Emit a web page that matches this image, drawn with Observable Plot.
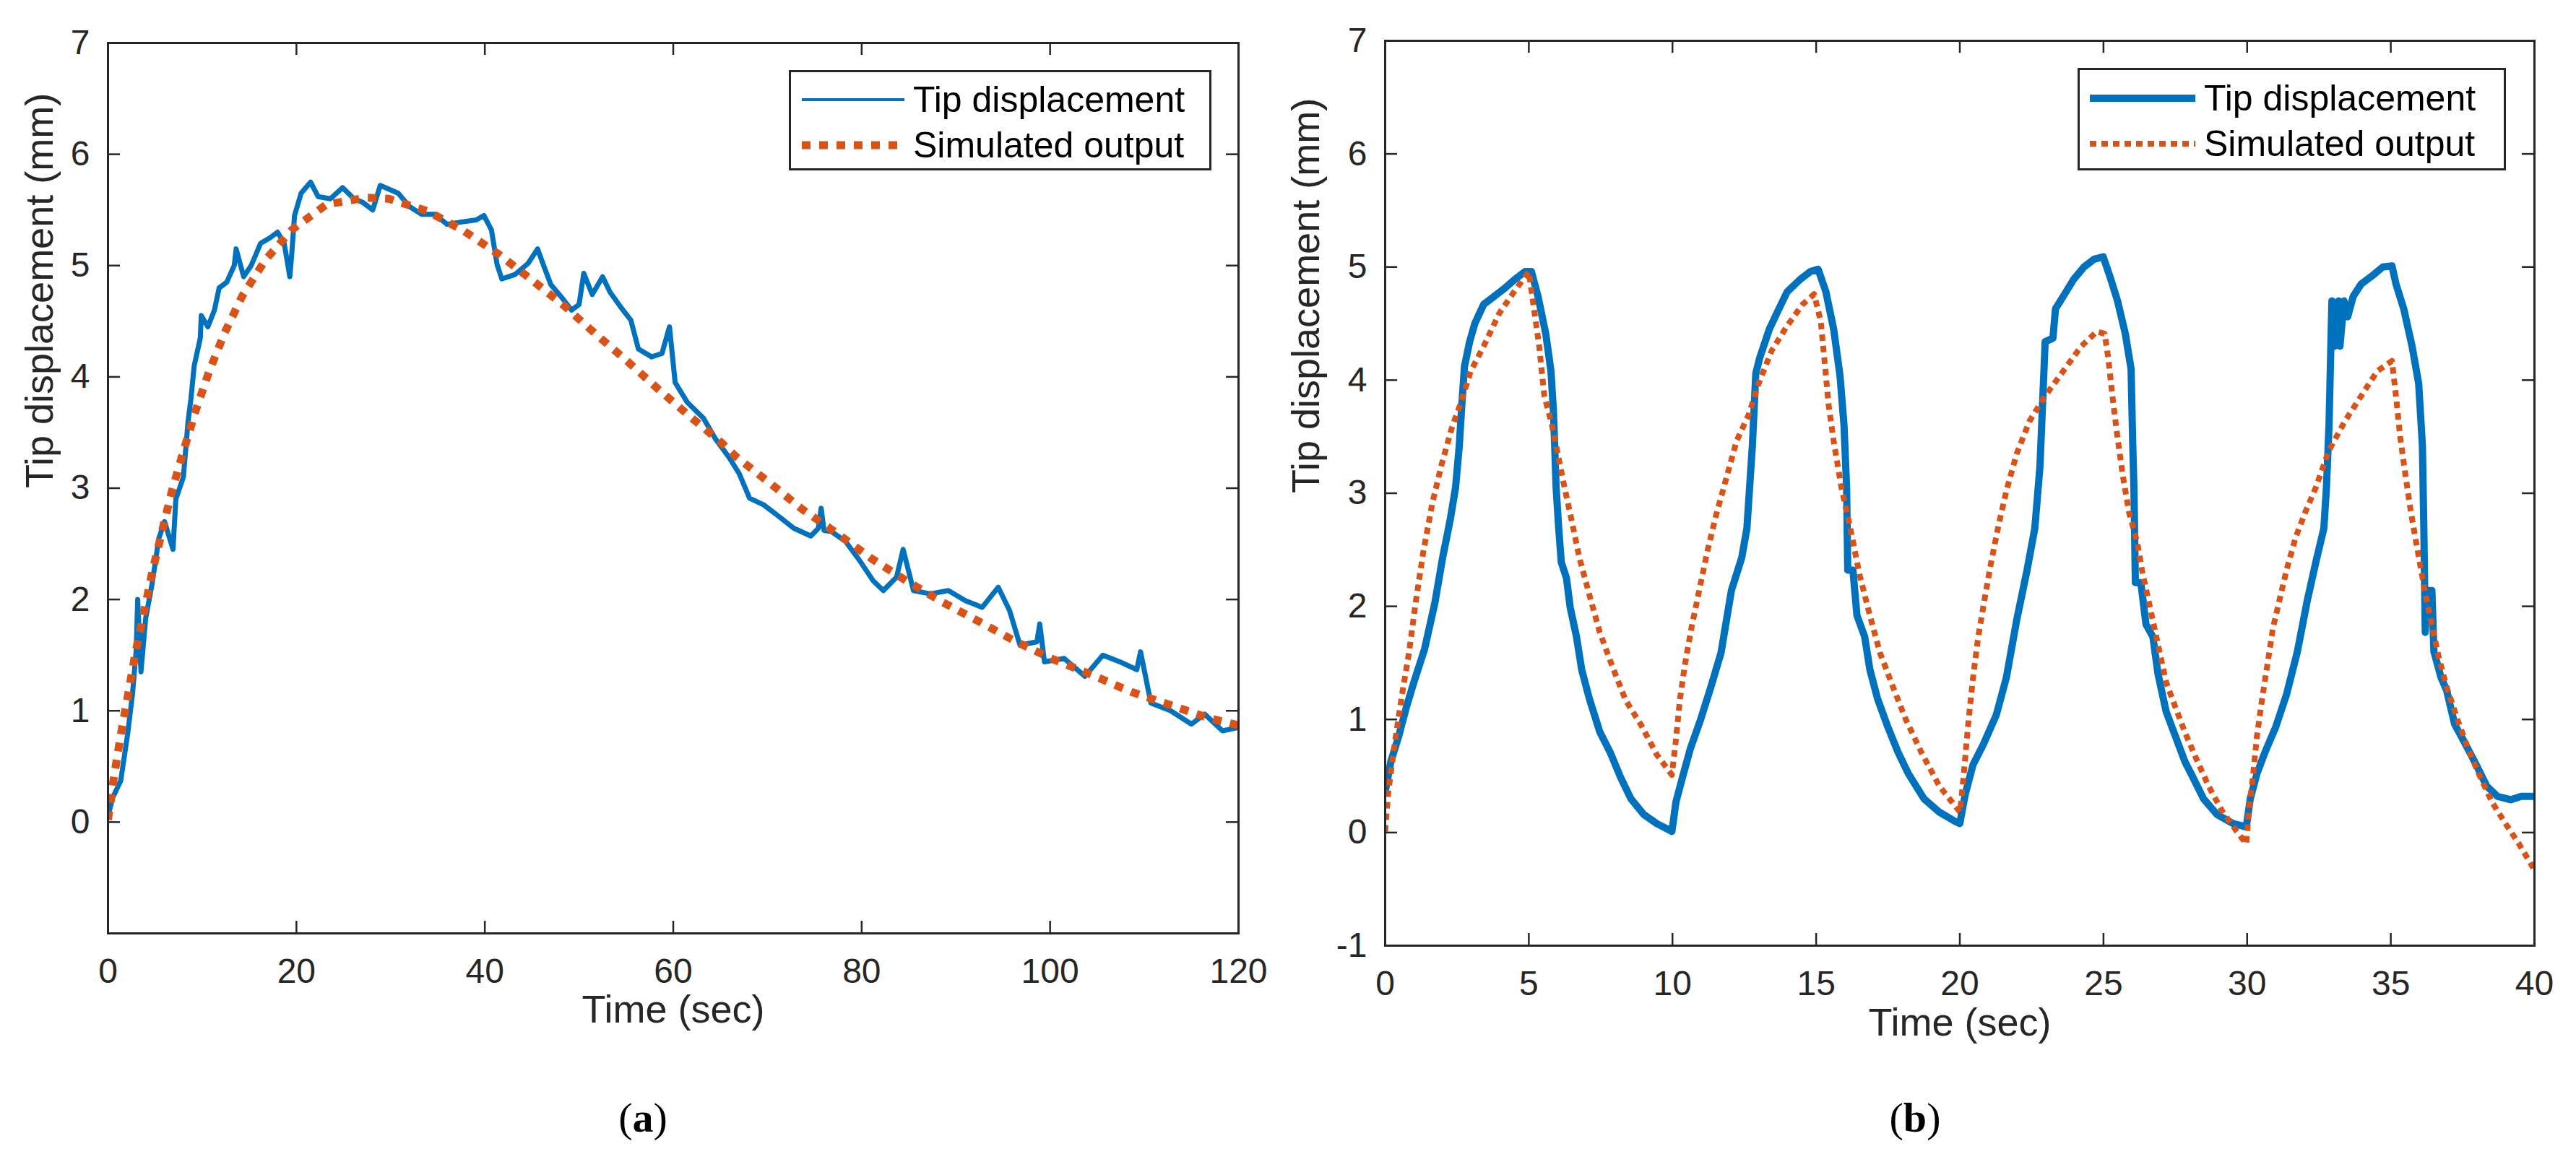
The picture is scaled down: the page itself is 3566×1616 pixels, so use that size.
<!DOCTYPE html>
<html>
<head>
<meta charset="utf-8">
<script src="https://cdn.jsdelivr.net/npm/d3@7"></script>
<script src="https://cdn.jsdelivr.net/npm/@observablehq/plot@0.6"></script>
<style>
  html, body { margin: 0; padding: 0; background: #fff; }
  body { width: 3566px; height: 1616px; position: relative; overflow: hidden; font-family: 'Liberation Sans', Arial, Helvetica, sans-serif; }
  .panel { position: absolute; top: 0; }
  .legend { position: absolute; background: #fff; border: 3px solid #262626; box-sizing: border-box; }
  .legend .row { position: absolute; left: 0; height: 60px; display: flex; align-items: center; }
  .legend .row span { font-size: 50px; color: #000; white-space: nowrap; }
  .caption { position: absolute; font-family: 'Liberation Serif', 'Times New Roman', serif; font-size: 58px; color: #000; transform: translate(-50%, -50%); }
</style>
</head>
<body>
<div id="left" class="panel" style="left:0px"></div>
<div id="right" class="panel" style="left:1780px"></div>
<div class="caption" style="left:890px; top:1547px">(<b>a</b>)</div>
<div class="caption" style="left:2651px; top:1547px">(<b>b</b>)</div>
<script>
// ---------- Panel (a): long step response ----------
const timeA = [0,0.5,1.35,2.1,2.6,3.0,3.15,3.5,4.0,4.7,5.4,6.0,6.9,7.2,8.0,8.5,8.8,9.15,9.8,9.9,10.6,11.3,11.8,12.6,13.4,13.6,14.4,15.2,16.2,17.2,18.0,18.7,19.3,19.5,19.8,20.5,21.5,22.3,23.6,24.9,26.1,27.0,28.1,28.9,30.8,32.0,33.3,34.7,36.0,37.4,39.1,39.9,40.7,41.3,41.8,43.2,44.6,45.6,46.2,47.0,48.1,49.2,50.0,50.5,51.4,52.5,53.3,54.4,55.5,56.3,57.7,58.8,59.6,60.2,61.5,63.2,64.5,65.9,67.0,68.1,69.6,71.0,72.8,74.6,75.4,75.7,76.0,76.8,78.3,79.7,81.2,82.3,83.7,84.4,85.5,87.3,89.2,91.0,92.8,94.5,95.7,96.8,98.6,98.9,99.4,101.5,103.7,105.6,107.4,109.2,109.6,110.7,112.8,115.0,116.4,118.3,120.0];
const tipA = [0.05,0.22,0.37,0.8,1.15,1.55,2.0,1.35,1.83,2.15,2.55,2.7,2.45,2.9,3.1,3.6,3.8,4.1,4.35,4.55,4.45,4.6,4.8,4.85,5.0,5.15,4.9,5.0,5.2,5.25,5.3,5.2,4.9,5.1,5.45,5.65,5.75,5.62,5.6,5.7,5.6,5.57,5.5,5.72,5.65,5.53,5.46,5.46,5.37,5.39,5.41,5.45,5.32,5.01,4.88,4.92,5.02,5.15,5.01,4.83,4.72,4.6,4.65,4.93,4.74,4.9,4.76,4.63,4.51,4.25,4.18,4.21,4.45,3.95,3.77,3.63,3.44,3.28,3.13,2.91,2.85,2.76,2.64,2.57,2.64,2.82,2.62,2.61,2.52,2.36,2.17,2.08,2.2,2.45,2.08,2.05,2.08,1.99,1.93,2.11,1.9,1.59,1.62,1.78,1.44,1.47,1.31,1.5,1.44,1.37,1.53,1.07,1.0,0.88,0.97,0.82,0.85];
const simTimeA = [0,0.64,1.35,2.12,2.89,3.78,4.68,5.7,6.77,8.0,9.28,10.74,12.35,14.27,16.7,19.5,23.2,27.4,29.8,33.9,37.8,41.5,45.0,48.4,51.7,55.0,58.4,61.7,65.1,66.7,70.2,73.7,77.3,81.0,84.7,88.5,92.5,96.4,100.4,104.5,108.6,112.8,117.0,120.0];
const simA = [0.02,0.41,0.78,1.14,1.51,1.87,2.24,2.6,2.97,3.33,3.69,4.05,4.39,4.73,5.05,5.32,5.55,5.61,5.6,5.49,5.31,5.1,4.87,4.64,4.39,4.15,3.89,3.65,3.41,3.28,3.05,2.81,2.6,2.37,2.17,1.98,1.8,1.62,1.46,1.32,1.17,1.05,0.93,0.87];
const xTicksA = [0,20,40,60,80,100,120];
const yTicksA = [0,1,2,3,4,5,6,7];

// ---------- Panel (b): periodic input ----------
const timeB = [0,0.2,0.47,0.74,1.0,1.37,1.73,2.0,2.26,2.45,2.58,2.67,2.76,2.94,3.12,3.43,3.79,4.15,4.51,4.87,5.09,5.32,5.59,5.77,5.86,5.9,5.95,6.04,6.13,6.31,6.44,6.66,6.84,7.11,7.47,7.83,8.19,8.55,9.0,9.45,9.98,10.12,10.35,10.62,10.98,11.34,11.69,12.05,12.41,12.59,12.78,12.9,13.04,13.37,13.63,13.99,14.44,14.8,15.07,15.34,15.61,15.83,15.97,16.06,16.1,16.28,16.42,16.69,16.87,17.14,17.5,17.85,18.21,18.75,19.29,19.83,20.0,20.19,20.46,20.82,21.27,21.62,21.98,22.34,22.61,22.79,22.88,22.97,23.24,23.33,23.6,23.96,24.32,24.68,24.99,25.22,25.49,25.76,25.96,26.02,26.06,26.11,26.3,26.48,26.72,26.9,27.18,27.55,27.83,28.11,28.48,28.95,29.51,29.97,30.11,30.34,30.62,30.99,31.37,31.74,32.1,32.39,32.67,32.76,32.85,32.9,32.95,33.04,33.18,33.23,33.37,33.5,33.69,33.97,34.34,34.72,35.04,35.18,35.45,35.74,35.97,36.1,36.15,36.2,36.25,36.43,36.5,36.75,36.94,37.22,37.6,37.97,38.34,38.71,39.17,39.54,40.0];
const tipB = [0.36,0.63,0.85,1.11,1.33,1.62,2.03,2.43,2.76,3.05,3.42,3.79,4.12,4.34,4.5,4.67,4.74,4.81,4.89,4.96,4.96,4.74,4.41,4.08,3.71,3.42,3.05,2.69,2.39,2.25,1.99,1.73,1.44,1.18,0.89,0.71,0.49,0.3,0.16,0.08,0.01,0.27,0.49,0.74,1.0,1.29,1.59,2.14,2.43,2.69,3.42,4.06,4.2,4.45,4.59,4.78,4.89,4.96,4.98,4.78,4.45,4.04,3.6,3.05,2.32,2.32,1.92,1.73,1.44,1.18,0.93,0.71,0.52,0.3,0.18,0.1,0.08,0.34,0.6,0.78,1.04,1.37,1.88,2.32,2.69,3.24,3.79,4.34,4.37,4.63,4.74,4.89,5.0,5.07,5.09,4.92,4.7,4.41,4.1,3.42,3.05,2.21,2.21,1.84,1.73,1.4,1.07,0.82,0.63,0.49,0.3,0.16,0.08,0.05,0.3,0.52,0.71,0.93,1.22,1.59,2.06,2.39,2.69,3.05,3.6,4.15,4.7,4.3,4.7,4.3,4.7,4.56,4.74,4.85,4.92,5.0,5.01,4.85,4.63,4.3,3.97,3.42,2.69,1.77,2.14,2.14,1.6,1.37,1.26,0.96,0.78,0.6,0.41,0.32,0.29,0.32,0.32];
const simTimeB = [0,0.11,0.34,0.6,0.83,1.06,1.32,1.64,1.95,2.31,2.62,2.98,3.43,3.97,4.51,5.0,5.18,5.36,5.54,5.77,5.95,6.21,6.49,6.76,7.11,7.47,7.92,8.37,8.91,9.45,9.98,10.12,10.26,10.43,10.66,10.93,11.2,11.51,11.87,12.23,12.66,13.0,13.45,13.99,14.53,14.93,15.16,15.3,15.43,15.61,15.88,16.19,16.51,16.87,17.22,17.67,18.12,18.66,19.29,20.01,20.14,20.28,20.46,20.64,20.86,21.09,21.35,21.62,21.98,22.43,22.97,23.6,24.23,24.77,25.04,25.17,25.31,25.49,25.67,25.89,26.18,26.34,26.62,26.9,27.18,27.5,27.83,28.2,28.66,29.13,29.64,29.97,30.06,30.2,30.34,30.52,30.72,30.9,31.13,31.37,31.69,32.02,32.39,32.85,33.41,33.97,34.53,35.04,35.18,35.33,35.51,35.7,35.93,36.16,36.39,36.67,36.94,37.32,37.69,38.06,38.52,38.99,39.46,39.93,40.0];
const simB = [0.01,0.36,0.8,1.24,1.59,2.03,2.47,2.91,3.24,3.57,3.79,4.08,4.3,4.59,4.79,4.96,4.63,4.3,3.86,3.64,3.42,3.09,2.76,2.43,2.1,1.77,1.46,1.17,0.95,0.69,0.51,0.82,1.18,1.48,1.81,2.14,2.47,2.8,3.13,3.46,3.7,3.97,4.26,4.48,4.67,4.76,4.52,4.15,3.79,3.46,3.05,2.69,2.28,1.92,1.59,1.29,1.0,0.71,0.41,0.18,0.52,0.93,1.37,1.73,2.06,2.39,2.72,3.02,3.35,3.64,3.86,4.08,4.3,4.43,4.41,4.19,3.86,3.49,3.16,2.83,2.56,2.32,1.99,1.66,1.33,1.11,0.89,0.67,0.41,0.19,0.01,-0.1,0.19,0.49,0.85,1.18,1.51,1.81,2.06,2.32,2.61,2.83,3.05,3.38,3.64,3.86,4.08,4.17,3.86,3.49,3.16,2.83,2.5,2.17,1.88,1.55,1.29,1.0,0.74,0.52,0.27,0.08,-0.1,-0.3,-0.35];
const xTicksB = [0,5,10,15,20,25,30,35,40];
const yTicksB = [-1,0,1,2,3,4,5,6,7];

const seriesNames = ["Tip displacement", "Simulated output"];
const axisTitleX = "Time (sec)";
const axisTitleY = "Tip displacement (mm)";

const BLUE = "#0072BD", ORANGE = "#D95319", INK = "#262626";
const FONT = "'Liberation Sans', Arial, Helvetica, sans-serif";

function zip(xs, ys) { return xs.map((t, i) => ({t, v: ys[i]})); }

function panel(o) {
  const frameW = o.width - o.ml - o.mr;
  const frameH = o.height - o.mt - o.mb;
  const TL = 17;
  return Plot.plot({
    width: o.width, height: o.height,
    marginLeft: o.ml, marginRight: o.mr, marginTop: o.mt, marginBottom: o.mb,
    style: {fontFamily: FONT, fontSize: "48px", color: INK, background: "transparent", overflow: "visible"},
    x: {domain: o.xDomain},
    y: {domain: [-1, 7]},
    marks: [
      Plot.line(zip(o.tipT, o.tip), {x: "t", y: "v", stroke: BLUE, strokeWidth: o.tipW, strokeLinejoin: "round", clip: true}),
      Plot.line(zip(o.simT, o.sim), {x: "t", y: "v", stroke: ORANGE, strokeWidth: o.simW, strokeDasharray: o.dash, strokeLinecap: "butt", clip: true}),
      // inward ticks on all four sides (box on)
      Plot.tickX(o.xTicks, {x: d => d, insetTop: frameH - TL, stroke: INK, strokeWidth: 2.5}),
      Plot.tickX(o.xTicks, {x: d => d, insetBottom: frameH - TL, stroke: INK, strokeWidth: 2.5}),
      Plot.tickY(o.yTicks, {y: d => d, insetRight: frameW - TL, stroke: INK, strokeWidth: 2.5}),
      Plot.tickY(o.yTicks, {y: d => d, insetLeft: frameW - TL, stroke: INK, strokeWidth: 2.5}),
      Plot.frame({stroke: INK, strokeWidth: 3}),
      Plot.axisX({ticks: o.xTicks, tickSize: 0, tickPadding: 34, fontSize: 48, fill: INK, label: null}),
      Plot.axisY({ticks: o.yTicks, tickSize: 0, tickPadding: 25, fontSize: 48, fill: INK, label: null, tickFormat: d => d < 0 ? "-" + Math.abs(d) : String(d)}),
      Plot.text([axisTitleX], {frameAnchor: "bottom", dy: o.xlabDy, fontSize: 54, fill: INK, text: d => d}),
      Plot.text([axisTitleY], {frameAnchor: "left", dx: o.ylabDx, rotate: -90, fontSize: 54, fill: INK, text: d => d})
    ]
  });
}

document.getElementById("left").append(panel({
  width: 1780, height: 1440, ml: 149, mr: 66, mt: 59, mb: 148,
  xDomain: [0, 120], xTicks: xTicksA, yTicks: yTicksA,
  tipT: timeA, tip: tipA, simT: simTimeA, sim: simA,
  tipW: 7, simW: 11, dash: "12,12", xlabDy: 123, ylabDx: -94
}));

document.getElementById("right").append(panel({
  width: 1786, height: 1440, ml: 137, mr: 58, mt: 56, mb: 131,
  xDomain: [0, 40], xTicks: xTicksB, yTicks: yTicksB,
  tipT: timeB, tip: tipB, simT: simTimeB, sim: simB,
  tipW: 10, simW: 8, dash: "9,7", xlabDy: 124, ylabDx: -109
}));

// ---------- legends (HTML overlays) ----------
function legend(box, rows, sample) {
  const div = document.createElement("div");
  div.className = "legend";
  Object.assign(div.style, {left: box.x + "px", top: box.y + "px", width: box.w + "px", height: box.h + "px"});
  seriesNames.forEach((name, i) => {
    const row = document.createElement("div");
    row.className = "row";
    row.style.top = (rows[i] - box.y - 30) + "px";
    row.style.left = (sample.x0 - box.x) + "px";
    const s = sample.styles[i];
    const len = sample.x1 - sample.x0;
    row.innerHTML = `<svg width="${len}" height="60" style="display:block"><line x1="0" x2="${len}" y1="30" y2="30" stroke="${s.stroke}" stroke-width="${s.w}" ${s.dash ? `stroke-dasharray="${s.dash}"` : ""}/></svg><span style="margin-left:${sample.gap}px">${name}</span>`;
    div.append(row);
  });
  document.body.append(div);
}
legend({x: 1092, y: 97, w: 585, h: 139}, [135, 198],
  {x0: 1107, x1: 1249, gap: 12, styles: [{stroke: BLUE, w: 4}, {stroke: ORANGE, w: 11, dash: "12,12"}]});
legend({x: 2876, y: 94, w: 593, h: 142}, [133, 196],
  {x0: 2890, x1: 3036, gap: 12, styles: [{stroke: BLUE, w: 10}, {stroke: ORANGE, w: 8, dash: "9,7"}]});
</script>
</body>
</html>
